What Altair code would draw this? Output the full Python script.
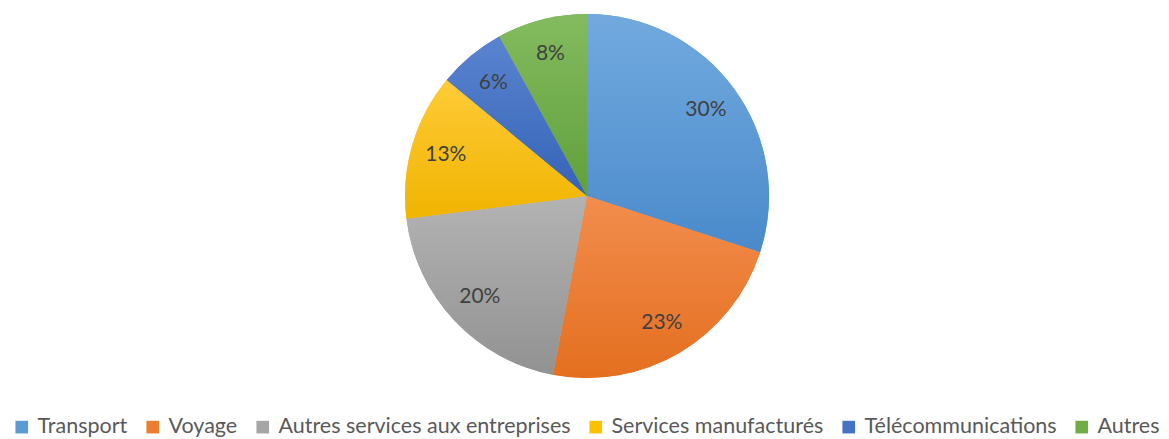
import altair as alt
import pandas as pd

categories = ["Transport", "Voyage", "Autres services aux entreprises",
              "Services manufacturés", "Télécommunications", "Autres"]
values = [30, 23, 20, 13, 6, 8]
labels = ["30%", "23%", "20%", "13%", "6%", "8%"]
colors = ["#5B9BD5", "#ED7D31", "#A5A5A5", "#FFC000", "#4472C4", "#70AD47"]
tops = ["#72AADF", "#F28D4E", "#B3B3B3", "#FFCB38", "#5A84CF", "#84BB60"]
bottoms = ["#4A8ACB", "#E46F1F", "#929292", "#F0B400", "#3563B8", "#60A03A"]

df = pd.DataFrame({"category": categories, "value": values,
                   "label": labels, "order": list(range(len(categories)))})

FONT = "Lato"
CX, CY, R = 579, 188, 182

base = (alt.Chart(df)
        .transform_window(cum="sum(value)", sort=[{"field": "order"}])
        .transform_calculate(start="datum.cum - datum.value",
                             mid="datum.cum - datum.value / 2"))

theta_scale = alt.Scale(domain=[0, 100])

solid = base.mark_arc(radius=R).encode(
    x=alt.value(CX), y=alt.value(CY),
    theta=alt.Theta("start:Q", scale=theta_scale, stack=None),
    theta2="cum:Q",
    color=alt.Color("category:N", sort=categories,
                    scale=alt.Scale(domain=categories, range=colors),
                    legend=alt.Legend(title=None, orient="none", direction="horizontal",
                                      legendX=3, legendY=408,
                                      labelFont=FONT, labelFontSize=21.5, labelColor="#595959",
                                      symbolType="square", symbolSize=160, symbolStrokeWidth=0,
                                      columnPadding=14, labelLimit=500, labelOffset=5,
                                      symbolOffset=0)),
)

layers = [solid]
for cat, t, b in zip(categories, tops, bottoms):
    grad = alt.Gradient(gradient="linear", x1=0, y1=0, x2=0, y2=1,
                        stops=[alt.GradientStop(color=t, offset=0),
                               alt.GradientStop(color=b, offset=1)])
    layers.append(
        base.transform_filter(alt.datum.category == cat)
        .mark_arc(radius=R, fill=grad)
        .encode(x=alt.value(CX), y=alt.value(CY),
                theta=alt.Theta("start:Q", scale=theta_scale, stack=None),
                theta2="cum:Q")
    )

text = base.mark_text(radius=147, font=FONT, fontSize=21, color="#404040").encode(
    x=alt.value(CX), y=alt.value(CY),
    theta=alt.Theta("mid:Q", scale=theta_scale, stack=None),
    text="label:N",
)
layers.append(text)

chart = (alt.layer(*layers)
         .properties(width=1153, height=420, padding=0)
         .configure_view(stroke=None))

chart.save("out.html", embed_options={"renderer": "svg", "actions": False})
